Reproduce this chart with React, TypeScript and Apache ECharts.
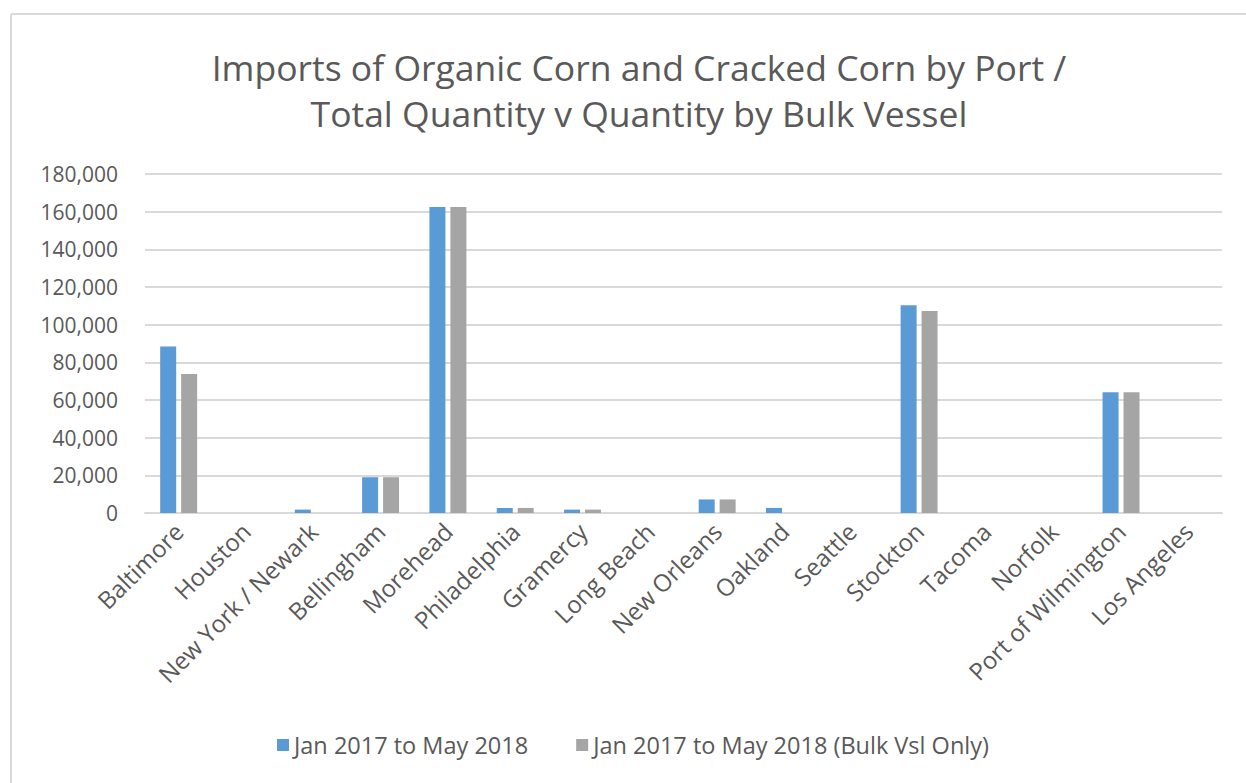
import React, { useEffect, useRef } from "react";
import * as echarts from "echarts";

const categories = [
  "Baltimore", "Houston", "New York / Newark", "Bellingham", "Morehead",
  "Philadelphia", "Gramercy", "Long Beach", "New Orleans", "Oakland",
  "Seattle", "Stockton", "Tacoma", "Norfolk", "Port of Wilmington", "Los Angeles",
];
const totalQty = [88400, 0, 1800, 19000, 162500, 2700, 1800, 0, 7200, 2700, 0, 110300, 0, 0, 64100, 0];
const bulkQty = [73800, 0, 0, 19000, 162500, 2700, 1800, 0, 7200, 0, 0, 107300, 0, 0, 64100, 0];
const seriesNames = ["Jan 2017 to May 2018", "Jan 2017 to May 2018 (Bulk Vsl Only)"];
const titleText = "Imports of Organic Corn and Cracked Corn by Port /\nTotal Quantity v Quantity by Bulk Vessel";

const FONT = "'Open Sans', 'Noto Sans', sans-serif";
const TEXT = "#595959";

export default function App() {
  const ref = useRef<HTMLDivElement>(null);
  useEffect(() => {
    if (!ref.current) return;
    const chart = echarts.init(ref.current, null, { renderer: "svg" });
    chart.setOption({
      animation: false,
      backgroundColor: "#ffffff",
      textStyle: { fontFamily: FONT },
      title: {
        text: titleText,
        left: 634,
        textAlign: "center",
        top: 39,
        textStyle: { fontFamily: FONT, fontSize: 35.5, fontWeight: "normal", color: TEXT, lineHeight: 46 },
      },
      graphic: [
        { type: "line", shape: { x1: 11, y1: 14, x2: 11, y2: 800 }, style: { stroke: "#d9d9d9", lineWidth: 2 } },
        { type: "line", shape: { x1: 11, y1: 14, x2: 1300, y2: 14 }, style: { stroke: "#d9d9d9", lineWidth: 2 } },
      ],
      legend: {
        data: seriesNames,
        top: 728,
        left: 272,
        itemWidth: 12,
        itemHeight: 12,
        itemGap: 48,
        icon: "rect",
        textStyle: { fontFamily: FONT, fontSize: 23.5, color: TEXT, padding: [0, 0, 0, 0] },
      },
      grid: { left: 145, right: 24, top: 174, bottom: 270, containLabel: false },
      xAxis: {
        type: "category",
        data: categories,
        axisLine: { lineStyle: { color: "#d9d9d9", width: 2 } },
        axisTick: { show: false },
        axisLabel: { rotate: 45, fontFamily: FONT, fontSize: 24, color: TEXT, interval: 0, margin: 14 },
      },
      yAxis: {
        type: "value",
        min: 0,
        max: 180000,
        interval: 20000,
        axisLine: { show: false },
        axisTick: { show: false },
        splitLine: { lineStyle: { color: "#d9d9d9", width: 2 } },
        axisLabel: {
          fontFamily: FONT,
          fontSize: 21,
          color: TEXT,
          margin: 27,
          formatter: (v: number) => v.toLocaleString("en-US"),
        },
      },
      series: [
        { name: seriesNames[0], type: "bar", data: totalQty, barWidth: 16, barGap: "31%", itemStyle: { color: "#5B9BD5" } },
        { name: seriesNames[1], type: "bar", data: bulkQty, barWidth: 16, itemStyle: { color: "#A5A5A5" } },
      ],
    });
    return () => chart.dispose();
  }, []);
  return (
    <div style={{ position: "fixed", left: 0, top: 0, width: 1246, height: 783, background: "#fff" }}>
      <div ref={ref} style={{ width: 1246, height: 783 }} />
    </div>
  );
}
